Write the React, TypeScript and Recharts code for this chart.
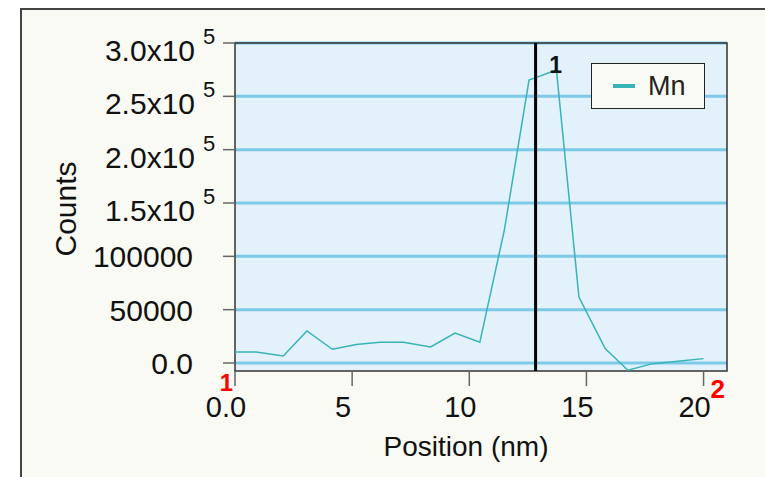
import React from "react";
import {
  LineChart,
  Line,
  XAxis,
  YAxis,
  CartesianGrid,
  Legend,
  ReferenceLine,
  ReferenceArea,
} from "recharts";

const positionNm = [
  0, 0.9, 2.06, 3.07, 4.16, 5.17, 6.18, 7.19, 8.35, 9.39, 10.45, 11.5, 12.55,
  13.72, 14.68, 15.8, 16.77, 17.82, 18.9, 20.0,
];
const mnCounts = [
  10300, 10300, 6600, 30000, 12900, 17300, 19400, 19400, 15000, 28100, 19400,
  125000, 265200, 274600, 61900, 13500, -6800, -600, 1600, 4100,
];
const xTicks = [0, 5, 10, 15, 20];
const yTicks = [0, 50000, 100000, 150000, 200000, 250000, 300000];
const markerPosition = 12.83;

const data = positionNm.map((p, i) => ({ position: p, Mn: mnCounts[i] }));

const FONT = "'Liberation Sans', Arial, sans-serif";
const TEAL = "#38b3b6";

const YTick = (props: any) => {
  const { x, y, payload } = props;
  const v = payload.value as number;
  if (v >= 150000) {
    const mant = (v / 100000).toFixed(1);
    return (
      <g fontFamily={FONT} fill="#111">
        <text x={x - 28} y={y + 18} textAnchor="end" fontSize={30}>
          {mant}x10
        </text>
        <text x={x - 20} y={y + 1} textAnchor="start" fontSize={22}>
          5
        </text>
      </g>
    );
  }
  const label = v === 0 ? "0.0" : String(v);
  return (
    <text x={x - 30} y={y + 11} textAnchor="end" fontSize={30} fontFamily={FONT} fill="#111">
      {label}
    </text>
  );
};

const XTick = (props: any) => {
  const { x, y, payload } = props;
  const v = payload.value as number;
  const label = v === 0 ? "0.0" : String(v);
  return (
    <g fontFamily={FONT}>
      <text x={x - 9} y={y + 31} textAnchor="middle" fontSize={29} fill="#111">
        {label}
      </text>
      {v === 0 && (
        <text x={x - 2} y={y + 5} textAnchor="end" fontSize={24} fontWeight="bold" fill="#ff0000">
          1
        </text>
      )}
      {v === 20 && (
        <text x={x + 7} y={y + 12} textAnchor="start" fontSize={26} fontWeight="bold" fill="#ff0000">
          2
        </text>
      )}
    </g>
  );
};

const LegendBox = () => (
  <div
    style={{
      width: 112,
      height: 44,
      background: "#fafaf4",
      border: "1.5px solid #222",
      display: "flex",
      alignItems: "center",
      fontFamily: FONT,
      fontSize: 27,
      color: "#222",
    }}
  >
    <span
      style={{
        display: "inline-block",
        width: 22,
        height: 4,
        background: TEAL,
        marginLeft: 21,
        marginRight: 13,
      }}
    />
    Mn
  </div>
);

export default function App() {
  return (
    <div style={{ position: "absolute", left: 0, top: 0, width: 765, height: 477, background: "#fff", overflow: "hidden" }}>
      <div
        style={{
          position: "absolute",
          left: 20,
          top: 8,
          width: 760,
          height: 480,
          background: "#fafaf4",
          borderLeft: "2px solid #444",
          borderTop: "2px solid #444",
        }}
      />
      <div style={{ position: "absolute", left: 0, top: 0 }}>
        <LineChart
          width={765}
          height={477}
          data={data}
          margin={{ top: 43, right: 38, bottom: 0, left: 0 }}
        >
          <CartesianGrid
            vertical={false}
            fill="#e2f1fa"
            fillOpacity={1}
            stroke="#7cc9e8"
            strokeWidth={3}
            horizontalValues={yTicks}
          />
          <XAxis
            dataKey="position"
            type="number"
            domain={[0, 21]}
            ticks={xTicks}
            height={106}
            axisLine={false}
            tickLine={{ stroke: "#666", strokeWidth: 1.5 }}
            tickSize={15}
            tickMargin={0}
            tick={<XTick />}
            label={(p: any) => (
              <text
                x={466}
                y={456}
                textAnchor="middle"
                fontSize={28}
                fontFamily={FONT}
                fill="#111"
              >
                Position (nm)
              </text>
            )}
          />
          <YAxis
            type="number"
            domain={[-7500, 300000]}
            ticks={yTicks}
            width={235}
            axisLine={false}
            tickLine={{ stroke: "#666", strokeWidth: 1.5 }}
            tickSize={12}
            tickMargin={0}
            tick={<YTick />}
            interval={0}
            label={(p: any) => (
              <text
                x={65}
                y={209}
                transform="rotate(-90 65 209)"
                textAnchor="middle"
                dominantBaseline="central"
                fontSize={30}
                fontFamily={FONT}
                fill="#111"
              >
                Counts
              </text>
            )}
          />
          <ReferenceArea
            x1={0}
            x2={21}
            y1={-7500}
            y2={300000}
            fill="none"
            stroke="#333"
            strokeWidth={1.5}
          />
          <Line
            type="linear"
            dataKey="Mn"
            stroke={TEAL}
            strokeWidth={1.5}
            dot={false}
            isAnimationActive={false}
          />
          <ReferenceLine
            x={markerPosition}
            stroke="#000"
            strokeWidth={3}
            label={(p: any) => (
              <text
                x={p.viewBox.x + 20}
                y={p.viewBox.y + 30}
                textAnchor="middle"
                fontSize={23}
                fontWeight="bold"
                fontFamily={FONT}
                fill="#111"
              >
                1
              </text>
            )}
          />
          <Legend
            layout="horizontal"
            verticalAlign="middle"
            align="center"
            content={<LegendBox />}
            wrapperStyle={{ position: "absolute", left: 591, top: 63, width: "auto" }}
          />
        </LineChart>
      </div>
    </div>
  );
}
